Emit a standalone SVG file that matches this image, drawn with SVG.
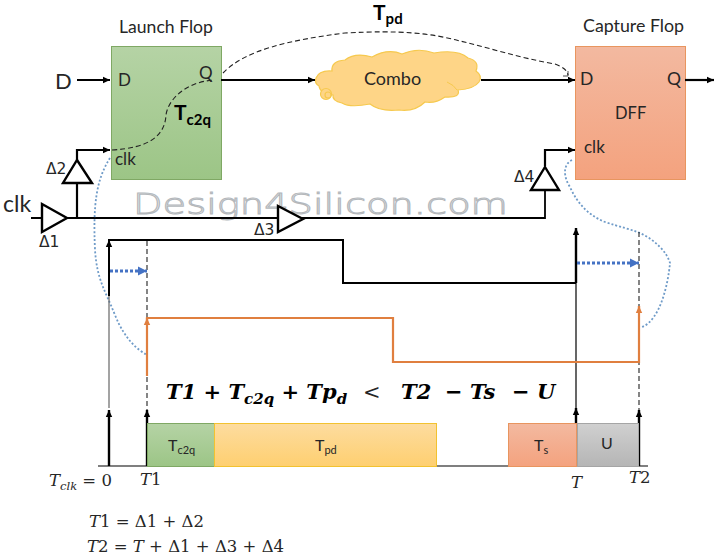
<svg xmlns="http://www.w3.org/2000/svg" width="722" height="559" viewBox="0 0 722 559">
<style>
text{font-family:"Lato","Open Sans","Liberation Sans",sans-serif;fill:#262626}
.m{font-family:"DejaVu Serif","Liberation Serif",serif}
.b{font-weight:700;font-style:italic;font-size:21px;fill:#000}
.i{font-style:italic}
.g{font-family:"DejaVu Sans",sans-serif;font-size:15.500px}
.w{stroke:#000;stroke-width:2.2;fill:none}
.tri{stroke:#000;stroke-width:2.4;fill:#fff}
.dash{stroke:#222;stroke-width:1.1;fill:none;stroke-dasharray:5 3}
.dot{stroke:#6f9bc8;stroke-width:1.8;fill:none;stroke-dasharray:2 2}
.or{stroke:#e07f3f;stroke-width:2.2;fill:none}
.blue{stroke:#4472c4;stroke-width:3;fill:none;stroke-dasharray:3 2}
.cl{fill:#fed587;stroke:#f6c94e;stroke-width:1.200}
</style>
<defs>
<linearGradient id="gG" x1="0" y1="0" x2="0" y2="1"><stop offset="0" stop-color="#b5d3a5"/><stop offset="1" stop-color="#9cc586"/></linearGradient>
<linearGradient id="gR" x1="0" y1="0" x2="0" y2="1"><stop offset="0" stop-color="#f3b9a0"/><stop offset="1" stop-color="#f4a27e"/></linearGradient>
<linearGradient id="gY" x1="0" y1="0" x2="0" y2="1"><stop offset="0" stop-color="#fddc9f"/><stop offset="1" stop-color="#fecf70"/></linearGradient>
<linearGradient id="gS" x1="0" y1="0" x2="0" y2="1"><stop offset="0" stop-color="#d0d0d0"/><stop offset="1" stop-color="#b5b5b5"/></linearGradient>
<marker id="a" markerUnits="userSpaceOnUse" markerWidth="8" markerHeight="8" refX="7" refY="4" orient="auto"><path d="M0 .8L7 4L0 7.2z" fill="#000"/></marker>
<marker id="ao" markerUnits="userSpaceOnUse" markerWidth="8" markerHeight="8" refX="7" refY="4" orient="auto"><path d="M0 .8L7 4L0 7.2z" fill="#e07f3f"/></marker>
<marker id="ab" markerUnits="userSpaceOnUse" markerWidth="10" markerHeight="10" refX="9" refY="5" orient="auto"><path d="M0 .5L9 5L0 9.5z" fill="#4472c4"/></marker>
</defs>
<text id="watermark" x="133" y="214" textLength="375" lengthAdjust="spacingAndGlyphs" style="font-family:'DejaVu Sans',sans-serif;font-size:29px;font-weight:200;fill:#fff;stroke:#b4b8bc;stroke-width:1">Design4Silicon.com</text>
<g id="launch-flop">
<rect x="111.500" y="46.500" width="110" height="133" fill="url(#gG)" stroke="#7fa864"/>
<text x="119" y="33" font-size="17.600">Launch Flop</text>
<text x="118" y="86" font-size="17">D</text>
<text x="199" y="79" font-size="17">Q</text>
<text x="115" y="165" font-size="17">clk</text>
<text x="174" y="120" font-size="21" font-weight="700" style="fill:#000">T<tspan font-size="15" dy="5">c2q</tspan></text>
</g>
<g id="capture-flop">
<rect x="575.500" y="46.500" width="110" height="133" fill="url(#gR)" stroke="#e8955f"/>
<text x="583" y="32" font-size="17.800">Capture Flop</text>
<text x="580" y="85" font-size="17.500">D</text>
<text x="667" y="85" font-size="17.500">Q</text>
<text x="615" y="119" font-size="16.500">DFF</text>
<text x="584" y="153" font-size="17">clk</text>
</g>
<g id="combo">
<path class="cl" d="M316 78Q319 70 332 71Q331 61 345 60Q355 52 372 57Q388 48 402 54Q418 47 434 53Q458 49 468 58Q480 61 476 71Q483 76 479 82Q474 89 458 90Q461 98 445 97Q435 104 425 102Q415 112 399 110Q380 112 370 104Q350 108 342 103Q332 101 333 95Q320 94 319 86Q314 83 316 78Z"/>
<path d="M447 82Q454 85 457 90" fill="none" stroke="#f6c94e"/>
<circle class="cl" cx="326" cy="94" r="5.500"/><circle class="cl" cx="328" cy="95" r="3"/>
<text x="364" y="85" font-size="18">Combo</text>
</g>
<g id="connectors">
<path class="w" d="M77 80H110" marker-end="url(#a)"/>
<path class="w" d="M221 80H315" marker-end="url(#a)"/>
<path class="w" d="M481 80H575" marker-end="url(#a)"/>
<path class="w" d="M685 80H714" marker-end="url(#a)"/>
<path class="w" d="M31 218H545V190" style="stroke-width:1.800"/>
<path class="w" d="M77 218V183"/>
<path class="w" d="M77 160V150H110" marker-end="url(#a)"/>
<path class="w" d="M545 166V150H575" marker-end="url(#a)"/>
<path class="dash" d="M112 150C150 148 165 135 166 115C168 100 185 82 214 80"/>
<path class="dash" d="M223 73C245 50 290 40 345 33C400 30 430 33 460 41C490 48 520 58 555 64C563 67 567 70 568 75"/>
<path d="M563 76H568V71" stroke="#222" fill="none" stroke-width=".8"/>
<path class="dot" d="M110 158C96 180 93 205 95 250C97 280 105 290 115 315C125 340 138 350 147 355"/>
<path class="dot" d="M572 160C562 165 564 178 570 187C578 205 590 216 605 222C620 227 630 229 640 233C655 240 667 252 670 263C668 285 660 320 642 327"/>
<path d="M109 296V408" stroke="#666" stroke-width="1.200" fill="none"/>
<path d="M576 283V408" stroke="#000" stroke-width="1.200" fill="none"/>
<path class="w" d="M109 296V240H343V283H576" style="stroke-width:2"/>
<path class="w" d="M576 283V228" marker-end="url(#a)" style="stroke-width:2.400"/>
<path class="w" d="M109 466V410" marker-end="url(#a)" style="stroke-width:2.400"/>
<path class="w" d="M147 466V410" marker-end="url(#a)" style="stroke-width:2.400"/>
<path class="w" d="M576 466V408" marker-end="url(#a)" style="stroke-width:2.400"/>
<path class="w" d="M639 466V410" marker-end="url(#a)" style="stroke-width:2.400"/>
<path class="w" d="M109 250V240" marker-end="url(#a)" style="stroke-width:1.500"/>
<path class="dash" d="M147 241V410M639 232V410" stroke-dasharray="4 3"/>
<path class="or" d="M147 376V318H393V362H639V306"/>
<path class="or" d="M147 325V318" marker-end="url(#ao)"/>
<path class="or" d="M639 313V306" marker-end="url(#ao)"/>
<path class="blue" d="M110 271H147" marker-end="url(#ab)"/>
<path class="blue" d="M577 263H639" marker-end="url(#ab)"/>
<path d="M98 466H648" stroke="#000" stroke-width="1.200"/>
</g>
<g id="buffers">
<path class="tri" d="M42 204L67 218L42 232Z"/>
<path class="tri" d="M77 160L92 183H63Z"/>
<path class="tri" d="M278 206L303 219L278 232Z"/>
<path class="tri" d="M545 167L559 190H531Z"/>
</g>
<g id="bars">
<rect x="147.500" y="423.500" width="67" height="43" fill="url(#gG)" stroke="#7fa864"/>
<rect x="214.500" y="423.500" width="222" height="43" fill="url(#gY)" stroke="#f2c230"/>
<rect x="508.500" y="423.500" width="68" height="43" fill="url(#gR)" stroke="#e8955f"/>
<rect x="577.500" y="423.500" width="61" height="43" fill="url(#gS)" stroke="#a5a5a5"/>
<text x="168" y="451" font-size="16">T<tspan font-size="11" dy="3">c2q</tspan></text>
<text x="315" y="451" font-size="16">T<tspan font-size="11" dy="3">pd</tspan></text>
<text x="534" y="451" font-size="16">T<tspan font-size="11" dy="3">s</tspan></text>
<text x="601" y="449" font-size="16">U</text>
</g>
<g id="labels">
<text x="55" y="89" font-size="22">D</text>
<text x="3" y="212" font-size="23">clk</text>
<text class="g" x="46" y="174">Δ2</text>
<text class="g" x="39" y="247">Δ1</text>
<text class="g" x="254" y="235">Δ3</text>
<text class="g" x="514" y="182">Δ4</text>
<text x="373" y="20" font-size="21" font-weight="700" style="fill:#000">T<tspan font-size="15" dy="4">pd</tspan></text>
<text class="m b" x="166" y="399">T1 + T<tspan font-size="15" dy="5">c2q</tspan><tspan dy="-5"> + Tp</tspan><tspan font-size="15" dy="5">d</tspan></text>
<text class="m" x="363" y="399" font-size="21">&lt;</text>
<text class="m b" x="401" y="399">T2</text>
<text class="m b" x="445" y="399">− Ts</text>
<text class="m b" x="512" y="399">− U</text>
<text class="m" x="49" y="486" font-size="16.500"><tspan class="i">T</tspan><tspan class="i" font-size="11.500" dy="4">clk</tspan><tspan dy="-4"> = 0</tspan></text>
<text class="m" x="140" y="485" font-size="16.500"><tspan class="i">T</tspan>1</text>
<text class="m i" x="571" y="488" font-size="16.500">T</text>
<text class="m" x="629" y="483" font-size="16.500"><tspan class="i">T</tspan>2</text>
<text class="m" x="89" y="527" font-size="16.500"><tspan class="i">T</tspan>1 = Δ1 + Δ2</text>
<text class="m" x="87" y="552" font-size="16.500"><tspan class="i">T</tspan>2 = <tspan class="i">T</tspan> + Δ1 + Δ3 + Δ4</text>
</g>
</svg>
